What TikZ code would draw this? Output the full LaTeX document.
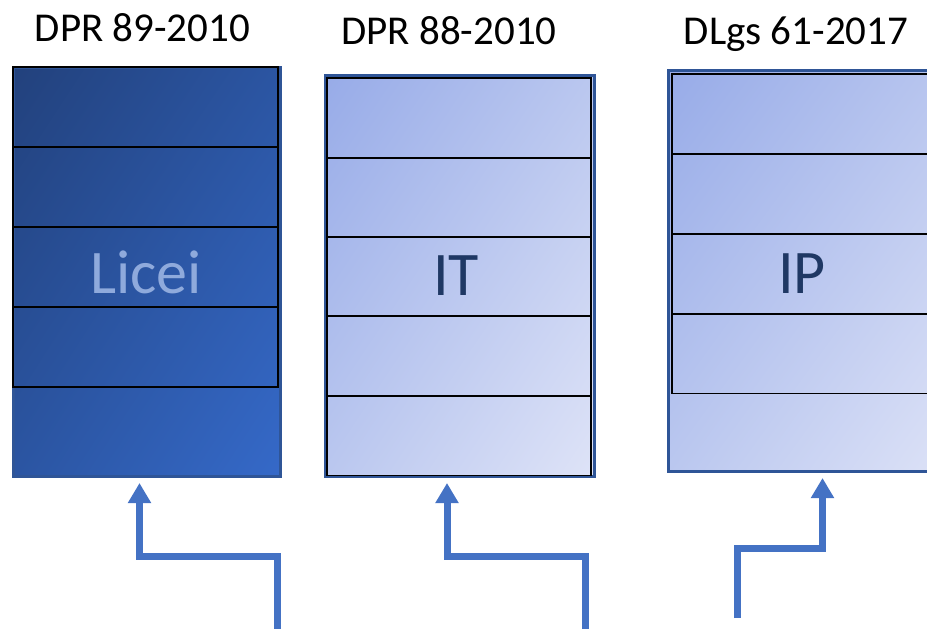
\documentclass[tikz,border=0pt]{standalone}
\usepackage{fontspec}
\setmainfont{Carlito}
\usetikzlibrary{arrows.meta,shadings}
\definecolor{darkA}{HTML}{22417C}
\definecolor{darkB}{HTML}{3569C8}
\definecolor{darkM}{HTML}{2B55A2}
\definecolor{lightA}{HTML}{97ABE8}
\definecolor{lightB}{HTML}{DEE3F7}
\definecolor{lightM}{HTML}{BAC7EF}
\definecolor{edgeblue}{HTML}{2F5597}
\definecolor{arrowblue}{HTML}{4472C4}
\definecolor{liceitext}{HTML}{8FAADC}
\definecolor{navytext}{HTML}{1F3864}
\tikzset{
  darkbox/.style={shading=bilinear interpolation, upper left=darkA, lower right=darkB, upper right=darkM, lower left=darkM},
  lightbox/.style={shading=bilinear interpolation, upper left=lightA, lower right=lightB, upper right=lightM, lower left=lightM},
  rowbox/.style={draw=black, line width=1.6pt, inner sep=0pt, anchor=north west},
  outerbox/.style={draw=edgeblue, line width=3pt, inner sep=0pt, anchor=north west},
  title/.style={anchor=base, font=\fontsize{41}{41}\selectfont, text=black},
  biglabel/.style={anchor=base, font=\fontsize{62}{62}\selectfont},
  flow/.style={draw=arrowblue, line width=7pt, line join=miter,
    -{Triangle[width=22pt,length=20pt]}}
}
\begin{document}
\begin{tikzpicture}[x=1pt,y=-1pt]
\useasboundingbox (0,0) rectangle (927,629);
% column 1
\shade[darkbox] (12,66) rectangle (279,475);
\node[outerbox, minimum width=267pt, minimum height=409pt] (o1) at (12,66) {};
\foreach \y/\n in {66/a,146/b,226/c,306/d}
  \node[rowbox, minimum width=265pt, minimum height=80pt] (r1\n) at (12,\y) {};
% column 2
\shade[lightbox] (324,74) rectangle (593,475);
\node[outerbox, minimum width=269pt, minimum height=401pt] (o2) at (324,74) {};
\foreach \y/\n in {77/a,157/b,236/c,315/d,395/e}
  \node[rowbox, minimum width=264pt, minimum height=79.5pt] (r2\n) at (326,\y) {};
% column 3
\shade[lightbox] (667,69) rectangle (960,470);
\node[outerbox, minimum width=293pt, minimum height=401pt] (o3) at (667,69) {};
\foreach \y/\n in {73/a,153/b,233/c,313/d}
  \node[rowbox, minimum width=289pt, minimum height=79.5pt] (r3\n) at (671,\y) {};
% titles
\node[title] (t1) at (142.5,41.7) {DPR 89-2010};
\node[title] (t2) at (449,45) {DPR 88-2010};
\node[title] (t3) at (796,44) {DLgs 61-2017};
% labels
\node[biglabel, text=liceitext] (l1) at (146,293) {Licei};
\node[biglabel, text=navytext] (l2) at (456,295) {IT};
\node[biglabel, text=navytext] (l3) at (802,293) {IP};
% arrows
\coordinate (s1) at (277,632);
\coordinate (e1) at (139.5,483);
\coordinate (s2) at (585,632);
\coordinate (e2) at (447,483);
\coordinate (s3) at (737.5,618);
\coordinate (e3) at (822.5,478);
\draw[flow] (s1) |- (208,556) -| (e1);
\draw[flow] (s2) |- (516,556) -| (e2);
\draw[flow] (s3) |- (780,548) -| (e3);
\end{tikzpicture}
\end{document}
